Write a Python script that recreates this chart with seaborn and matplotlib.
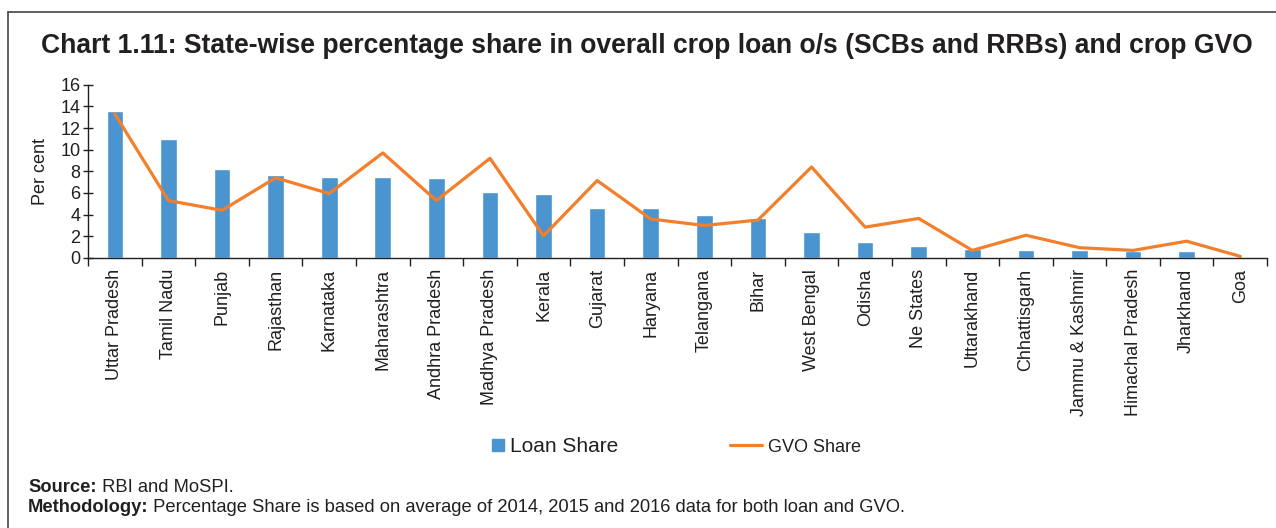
import numpy as np
import pandas as pd
import matplotlib
matplotlib.use("Agg")
import matplotlib.pyplot as plt
import seaborn as sns
from matplotlib.lines import Line2D
from matplotlib.ticker import FixedLocator

states = ["Uttar Pradesh", "Tamil Nadu", "Punjab", "Rajasthan", "Karnataka",
          "Maharashtra", "Andhra Pradesh", "Madhya Pradesh", "Kerala", "Gujarat",
          "Haryana", "Telangana", "Bihar", "West Bengal", "Odisha", "Ne States",
          "Uttarakhand", "Chhattisgarh", "Jammu & Kashmir", "Himachal Pradesh",
          "Jharkhand", "Goa"]
loan_share = [13.6, 11.0, 8.2, 7.7, 7.5, 7.5, 7.4, 6.1, 5.9, 4.6,
              4.6, 3.95, 3.7, 2.4, 1.5, 1.1, 0.8, 0.7, 0.75, 0.65,
              0.6, 0.05]
gvo_share = [13.3, 5.3, 4.4, 7.4, 5.95, 9.7, 5.3, 9.2, 2.05, 7.15,
             3.6, 3.0, 3.5, 8.4, 2.85, 3.65, 0.7, 2.1, 0.95, 0.7,
             1.55, 0.15]
y_ticks = [0, 2, 4, 6, 8, 10, 12, 14, 16]

BLUE = "#4a94d0"
ORANGE = "#f47f2a"
TXT = "#231f20"

df = pd.DataFrame({"state": states, "loan": loan_share, "gvo": gvo_share})

sns.set_theme(style="white")
plt.rcParams['font.family'] = ['Liberation Sans', 'DejaVu Sans']
plt.rcParams['text.color'] = TXT

fig = plt.figure(figsize=(12.76, 5.28), dpi=100)
ax = fig.add_axes([0.069, 0.5114, 0.924, 0.3282])

sns.barplot(data=df, x="state", y="loan", color=BLUE, width=0.31,
            saturation=1, ax=ax)
sns.pointplot(data=df, x="state", y="gvo", color=ORANGE, markers="",
              linestyles="-", linewidth=2.3, errorbar=None, ax=ax)

ax.set_xlim(-0.5, len(states) - 0.5)
ax.set_ylim(0, 16)
ax.set_yticks(y_ticks)
ax.set_yticklabels([str(t) for t in y_ticks], fontsize=13, color=TXT)
ax.set_xticks(range(len(states)))
ax.set_xticklabels(states, rotation=90, fontsize=13, color=TXT)
ax.xaxis.set_minor_locator(FixedLocator(np.arange(-0.5, len(states), 1.0)))
ax.tick_params(axis="x", which="major", length=0, pad=8)
ax.tick_params(axis="x", which="minor", length=6, width=1, color="#231f20",
               direction="out", bottom=True)
ax.tick_params(axis="y", length=7, width=1, color="#231f20",
               direction="inout", left=True, pad=2)
ax.set_xlabel("")
ax.set_ylabel("Per cent", fontsize=13, color=TXT, labelpad=8)

for s in ["top", "right"]:
    ax.spines[s].set_visible(False)
for s in ["left", "bottom"]:
    ax.spines[s].set_color("#231f20")
    ax.spines[s].set_linewidth(1)

# legend, two separate entries
loan_h = Line2D([], [], marker="s", color=BLUE, linestyle="none", markersize=8)
gvo_h = Line2D([], [], color=ORANGE, linewidth=2.3)
leg1 = fig.legend([loan_h], ["Loan Share"], frameon=False, fontsize=15,
                  handlelength=0.6, handletextpad=0.25, borderpad=0,
                  borderaxespad=0, loc="center left",
                  bbox_to_anchor=(492 / 1276, 1 - 447 / 528))
leg2 = fig.legend([gvo_h], ["GVO Share"], frameon=False, fontsize=13,
                  handlelength=1.77, handletextpad=0.33, borderpad=0,
                  borderaxespad=0, loc="center left",
                  bbox_to_anchor=(730 / 1276, 1 - 447 / 528))

fig.text(0.507, 0.913, "Chart 1.11: State-wise percentage share in overall crop loan o/s (SCBs and RRBs) and crop GVO",
         ha="center", va="center", fontsize=19.1, fontweight="bold", color=TXT)

# notes
fig.canvas.draw()
r = fig.canvas.get_renderer()
notes = [("Source:", " RBI and MoSPI.", 0.077),
         ("Methodology:", " Percentage Share is based on average of 2014, 2015 and 2016 data for both loan and GVO.", 0.039)]
for bold, rest, yy in notes:
    t = fig.text(28 / 1276, yy, bold, fontsize=13.2, fontweight="bold",
                 color=TXT, va="center")
    bb = t.get_window_extent(r)
    fig.text(bb.x1 / 1276, yy, rest, fontsize=13.2, color=TXT, va="center")

# frame lines
fig.add_artist(Line2D([8 / 1276, 1.0], [1 - 12 / 528, 1 - 12 / 528],
                      color="#444444", linewidth=1.2, transform=fig.transFigure))
fig.add_artist(Line2D([8 / 1276, 8 / 1276], [0, 1 - 12 / 528],
                      color="#444444", linewidth=1.2, transform=fig.transFigure))

fig.savefig("out.png", dpi=100)
